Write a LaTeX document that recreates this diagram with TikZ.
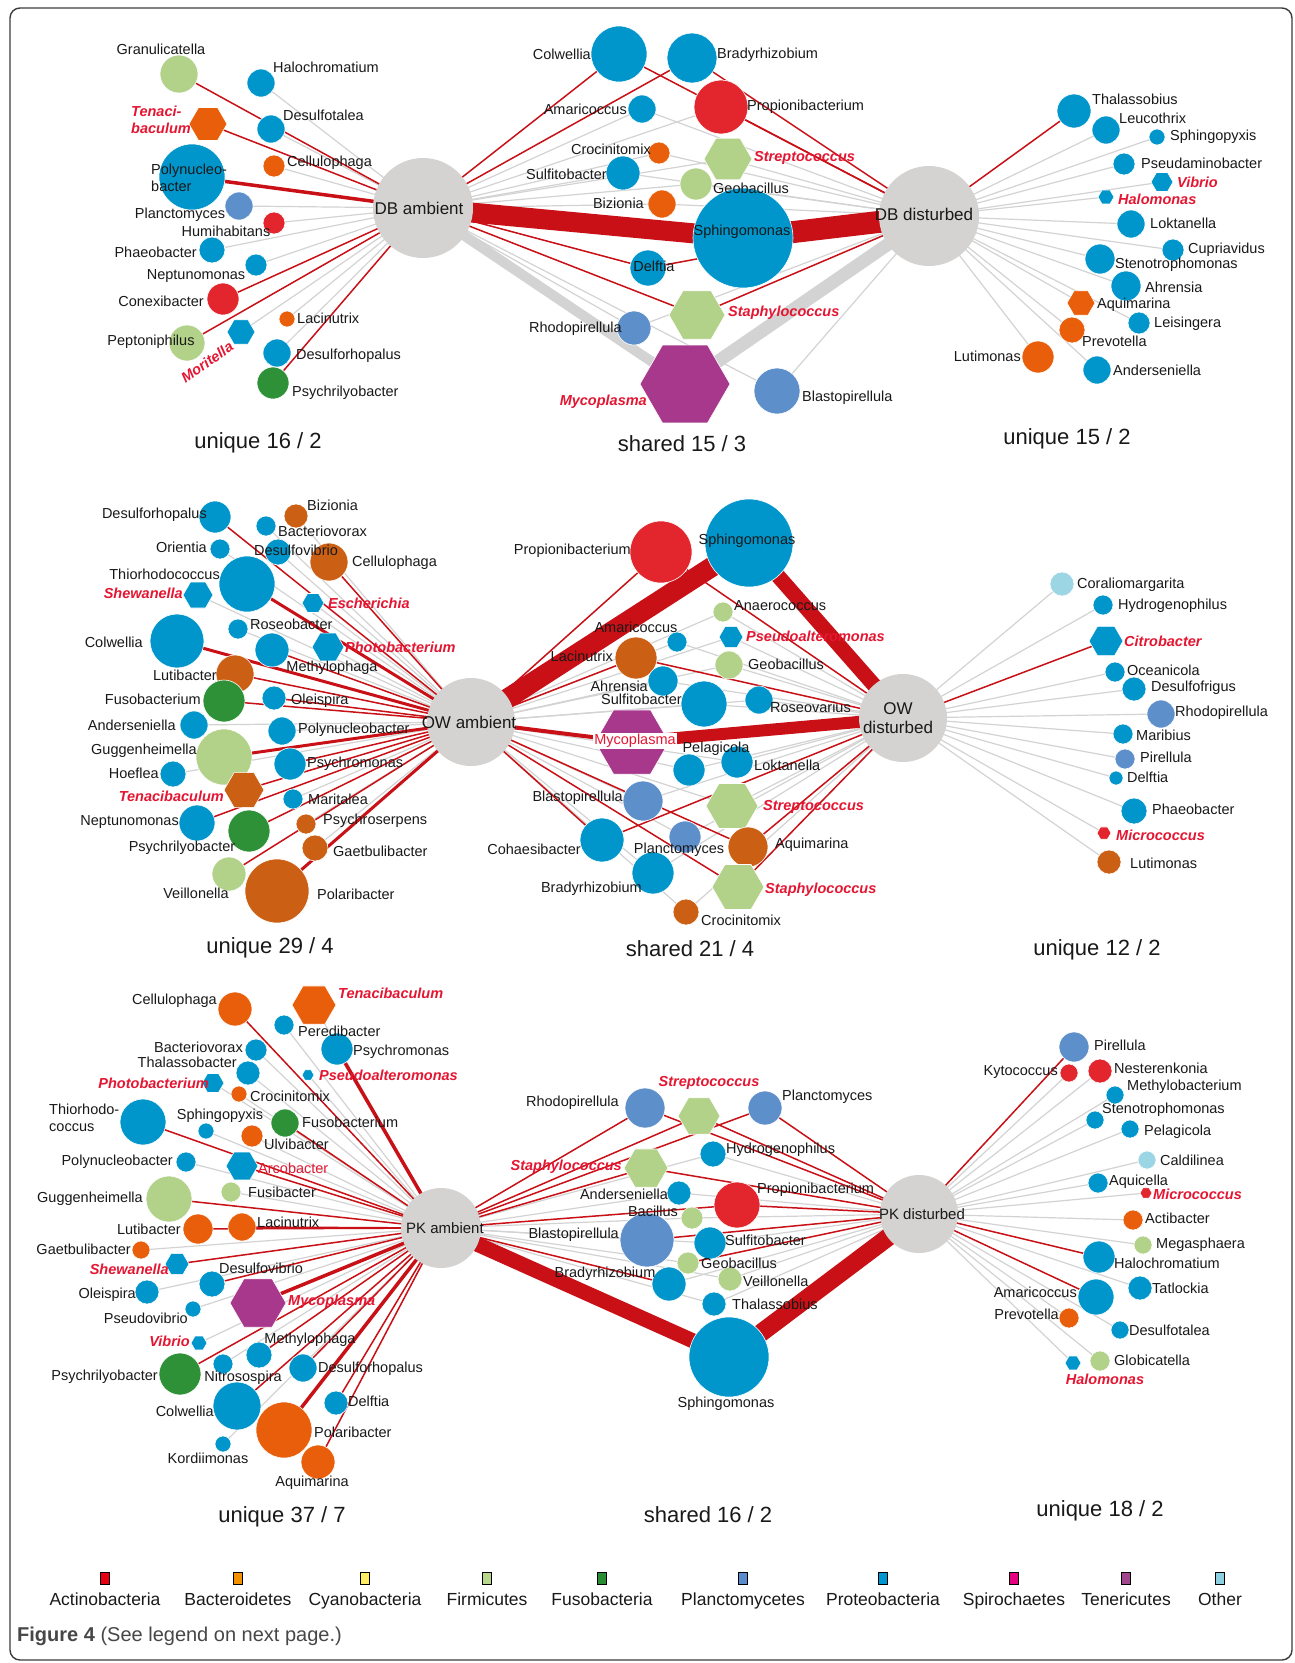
\documentclass[tikz,border=0pt]{standalone}
\usepackage{fontspec}
\setmainfont{Liberation Sans}
\usepackage{tikz}
\usetikzlibrary{positioning, shapes.geometric}
\definecolor{actin}{RGB}{227,38,45}
\definecolor{bactA}{RGB}{233,94,10}
\definecolor{bactB}{RGB}{203,96,21}
\definecolor{firm}{RGB}{178,209,137}
\definecolor{fuso}{RGB}{46,145,55}
\definecolor{planc}{RGB}{93,143,202}
\definecolor{prot}{RGB}{0,150,203}
\definecolor{tener}{RGB}{168,56,140}
\definecolor{other}{RGB}{156,213,228}
\definecolor{hubgrey}{RGB}{213,211,210}
\definecolor{edgered}{RGB}{200,16,22}
\definecolor{edgegrey}{RGB}{211,211,211}
\definecolor{pathred}{RGB}{228,22,50}
\definecolor{ink}{RGB}{25,25,25}
\definecolor{legact}{RGB}{230,0,18}
\definecolor{legbac}{RGB}{243,146,0}
\definecolor{legcya}{RGB}{255,237,100}
\definecolor{legfir}{RGB}{184,214,140}
\definecolor{legfus}{RGB}{40,140,50}
\definecolor{legpla}{RGB}{90,140,205}
\definecolor{legpro}{RGB}{0,150,210}
\definecolor{legspi}{RGB}{230,0,126}
\definecolor{legten}{RGB}{160,70,140}
\definecolor{legoth}{RGB}{140,208,225}
\newcommand{\labfont}{\fontsize{14.5}{17.5}\selectfont}
\newcommand{\pathfont}{\fontsize{14.5}{17.5}\selectfont\bfseries\itshape}
\newcommand{\hubfont}{\fontsize{17}{19}\selectfont}
\newcommand{\pkfont}{\fontsize{15}{17}\selectfont}
\newcommand{\titfont}{\fontsize{22}{24}\selectfont}
\newcommand{\legfont}{\fontsize{17.5}{19}\selectfont}
\pgfdeclarelayer{background}
\pgfsetlayers{background,main}
\tikzset{
  bug/.style={circle, draw=white, line width=0.6pt, inner sep=0pt},
  hexbug/.style={regular polygon, regular polygon sides=6, draw=white, line width=0.6pt, inner sep=0pt},
  hub/.style={circle, fill=hubgrey, inner sep=0pt},
  hublab/.style={font=\hubfont, text=ink, inner sep=0pt, align=center},
  lab/.style={font=\labfont, text=ink, inner sep=0pt},
  plab/.style={font=\pathfont, text=pathred, inner sep=0pt},
  rlab/.style={font=\labfont, text=pathred, inner sep=0pt},
  ttl/.style={font=\titfont, text=ink, inner sep=0pt},
  gE/.style={draw=edgegrey, line width=1.2pt},
  rE/.style={draw=edgered, line width=1.5pt},
  legbox/.style={draw=black, line width=0.8pt, minimum width=9, minimum height=12, inner sep=0pt},
  legtext/.style={font=\legfont, text=ink, inner sep=0pt}
}

\begin{document}
\begin{tikzpicture}[x=1pt, y=-1pt]
\useasboundingbox (0,0) rectangle (1295,1663);
\draw[rounded corners=10pt, line width=1.4pt, draw=ink!85] (10,8) rectangle (1292,1660);

\node[hub, minimum size=100] (dbA) at (423,208) {};
\node[hub, minimum size=100] (dbD) at (929,216) {};
\node[hub, minimum size=88] (owA) at (471,722) {};
\node[hub, minimum size=88] (owD) at (903,718) {};
\node[hub, minimum size=80] (pkA) at (441,1228) {};
\node[hub, minimum size=78] (pkD) at (919,1214) {};

\node[bug, fill=firm, minimum size=38] (a1Granu) at (179,74) {};
\node[bug, fill=prot, minimum size=28] (a1Haloc) at (261,83) {};
\node[hexbug, fill=bactA, minimum size=38] (a1Tenac) at (208,124) {};
\node[bug, fill=prot, minimum size=28] (a1Desft) at (271,129) {};
\node[bug, fill=bactA, minimum size=22] (a1Cellu) at (274,166) {};
\node[bug, fill=prot, minimum size=66] (a1Polyn) at (192,177) {};
\node[bug, fill=planc, minimum size=28] (a1Planc) at (239,206) {};
\node[bug, fill=actin, minimum size=22] (a1Humih) at (274,223) {};
\node[bug, fill=prot, minimum size=26] (a1Phaeo) at (212,250) {};
\node[bug, fill=prot, minimum size=22] (a1Neptu) at (256,265) {};
\node[bug, fill=actin, minimum size=32] (a1Conex) at (223,299) {};
\node[bug, fill=bactA, minimum size=16] (a1Lacin) at (287,319) {};
\node[hexbug, fill=prot, minimum size=28] (a1Morit) at (241,332) {};
\node[bug, fill=firm, minimum size=36] (a1Pepto) at (187,343) {};
\node[bug, fill=prot, minimum size=28] (a1Desrh) at (277,353) {};
\node[bug, fill=fuso, minimum size=32] (a1Psyly) at (273,383) {};

\node[bug, fill=prot, minimum size=56] (s1Colwe) at (619,54) {};
\node[bug, fill=prot, minimum size=50] (s1Brady) at (692,58) {};
\node[bug, fill=prot, minimum size=28] (s1Amari) at (642,109) {};
\node[bug, fill=actin, minimum size=54] (s1Propi) at (721,107) {};
\node[bug, fill=bactA, minimum size=22] (s1Croci) at (659,153) {};
\node[hexbug, fill=firm, minimum size=48] (s1Strep) at (728,159) {};
\node[bug, fill=prot, minimum size=34] (s1Sulfi) at (623,173) {};
\node[bug, fill=firm, minimum size=32] (s1Geoba) at (696,184) {};
\node[bug, fill=bactA, minimum size=28] (s1Bizio) at (662,204) {};
\node[bug, fill=prot, minimum size=100] (s1Sphin) at (743,238) {};
\node[bug, fill=prot, minimum size=36] (s1Delft) at (648,268) {};
\node[hexbug, fill=firm, minimum size=56] (s1Staph) at (697,315) {};
\node[bug, fill=planc, minimum size=34] (s1Rhodo) at (634,328) {};
\node[hexbug, fill=tener, minimum size=90] (s1Mycop) at (685,384) {};
\node[bug, fill=planc, minimum size=46] (s1Blast) at (777,391) {};

\node[bug, fill=prot, minimum size=34] (d1Thala) at (1074,111) {};
\node[bug, fill=prot, minimum size=28] (d1Leuco) at (1106,130) {};
\node[bug, fill=prot, minimum size=16] (d1Sphpy) at (1157,137) {};
\node[bug, fill=prot, minimum size=22] (d1Pseam) at (1124,164) {};
\node[hexbug, fill=prot, minimum size=22] (d1Vibri) at (1162,182) {};
\node[hexbug, fill=prot, minimum size=16] (d1Halom) at (1106,197) {};
\node[bug, fill=prot, minimum size=28] (d1Lokta) at (1131,224) {};
\node[bug, fill=prot, minimum size=22] (d1Cupri) at (1173,250) {};
\node[bug, fill=prot, minimum size=30] (d1Steno) at (1100,259) {};
\node[bug, fill=prot, minimum size=30] (d1Ahren) at (1126,286) {};
\node[hexbug, fill=bactA, minimum size=28] (d1Aquim) at (1081,303) {};
\node[bug, fill=prot, minimum size=22] (d1Leisi) at (1139,323) {};
\node[bug, fill=bactA, minimum size=26] (d1Prevo) at (1072,330) {};
\node[bug, fill=bactA, minimum size=32] (d1Lutim) at (1038,357) {};
\node[bug, fill=prot, minimum size=28] (d1Ander) at (1097,370) {};

\node[bug, fill=prot, minimum size=32] (a2Desrh) at (215,517) {};
\node[bug, fill=bactB, minimum size=24] (a2Bizio) at (296,516) {};
\node[bug, fill=prot, minimum size=20] (a2Bacte) at (266,526) {};
\node[bug, fill=prot, minimum size=20] (a2Orien) at (220,549) {};
\node[bug, fill=prot, minimum size=26] (a2Desvi) at (278,552) {};
\node[bug, fill=bactB, minimum size=38] (a2Cellu) at (329,562) {};
\node[bug, fill=prot, minimum size=56] (a2Thior) at (247,584) {};
\node[hexbug, fill=prot, minimum size=30] (a2Shewa) at (198,595) {};
\node[hexbug, fill=prot, minimum size=22] (a2Esche) at (313,603) {};
\node[bug, fill=prot, minimum size=20] (a2Roseo) at (238,629) {};
\node[bug, fill=prot, minimum size=54] (a2Colwe) at (177,641) {};
\node[bug, fill=prot, minimum size=34] (a2Methy) at (272,650) {};
\node[hexbug, fill=prot, minimum size=32] (a2Photo) at (328,647) {};
\node[bug, fill=bactB, minimum size=38] (a2Lutib) at (235,674) {};
\node[bug, fill=fuso, minimum size=42] (a2Fusob) at (224,701) {};
\node[bug, fill=prot, minimum size=24] (a2Oleis) at (274,698) {};
\node[bug, fill=prot, minimum size=28] (a2Ander) at (194,725) {};
\node[bug, fill=prot, minimum size=28] (a2Polyn) at (282,731) {};
\node[bug, fill=firm, minimum size=56] (a2Gugge) at (224,757) {};
\node[bug, fill=prot, minimum size=32] (a2Psycm) at (290,764) {};
\node[bug, fill=prot, minimum size=26] (a2Hoefl) at (173,774) {};
\node[hexbug, fill=bactB, minimum size=40] (a2Tenac) at (244,790) {};
\node[bug, fill=prot, minimum size=20] (a2Marit) at (293,799) {};
\node[bug, fill=prot, minimum size=36] (a2Neptu) at (197,823) {};
\node[bug, fill=fuso, minimum size=42] (a2Psyly) at (249,831) {};
\node[bug, fill=bactB, minimum size=20] (a2Psyse) at (306,824) {};
\node[bug, fill=bactB, minimum size=26] (a2Gaetb) at (315,848) {};
\node[bug, fill=firm, minimum size=34] (a2Veill) at (229,874) {};
\node[bug, fill=bactB, minimum size=64] (a2Polar) at (277,891) {};

\node[bug, fill=actin, minimum size=62] (s2Propi) at (661,552) {};
\node[bug, fill=prot, minimum size=88] (s2Sphin) at (749,543) {};
\node[bug, fill=firm, minimum size=20] (s2Anaer) at (723,612) {};
\node[bug, fill=prot, minimum size=20] (s2Amari) at (677,642) {};
\node[hexbug, fill=prot, minimum size=24] (s2Pseal) at (731,637) {};
\node[bug, fill=bactB, minimum size=42] (s2Lacin) at (636,658) {};
\node[bug, fill=firm, minimum size=28] (s2Geoba) at (729,665) {};
\node[bug, fill=prot, minimum size=30] (s2Ahren) at (663,681) {};
\node[bug, fill=prot, minimum size=46] (s2Sulfi) at (704,704) {};
\node[bug, fill=prot, minimum size=28] (s2Rosev) at (759,700) {};
\node[hexbug, fill=tener, minimum size=74] (s2Mycop) at (632,742) {};
\node[bug, fill=prot, minimum size=32] (s2Pelag) at (689,770) {};
\node[bug, fill=prot, minimum size=32] (s2Lokta) at (737,762) {};
\node[bug, fill=planc, minimum size=40] (s2Blast) at (643,801) {};
\node[hexbug, fill=firm, minimum size=52] (s2Strep) at (732,806) {};
\node[bug, fill=prot, minimum size=44] (s2Cohae) at (602,840) {};
\node[bug, fill=planc, minimum size=32] (s2Planc) at (685,837) {};
\node[bug, fill=bactB, minimum size=40] (s2Aquim) at (748,847) {};
\node[bug, fill=prot, minimum size=42] (s2Brady) at (653,873) {};
\node[hexbug, fill=firm, minimum size=52] (s2Staph) at (738,887) {};
\node[bug, fill=bactB, minimum size=26] (s2Croci) at (686,912) {};

\node[bug, fill=other, minimum size=24] (d2Coral) at (1062,584) {};
\node[bug, fill=prot, minimum size=20] (d2Hydro) at (1103,605) {};
\node[hexbug, fill=prot, minimum size=34] (d2Citro) at (1106,641) {};
\node[bug, fill=prot, minimum size=20] (d2Ocean) at (1115,672) {};
\node[bug, fill=prot, minimum size=24] (d2Desfr) at (1134,689) {};
\node[bug, fill=planc, minimum size=28] (d2Rhodo) at (1161,714) {};
\node[bug, fill=prot, minimum size=20] (d2Marib) at (1123,734) {};
\node[bug, fill=planc, minimum size=20] (d2Pirel) at (1125,759) {};
\node[bug, fill=prot, minimum size=14] (d2Delft) at (1116,778) {};
\node[bug, fill=prot, minimum size=26] (d2Phaeo) at (1134,811) {};
\node[hexbug, fill=actin, minimum size=14] (d2Micro) at (1104,833) {};
\node[bug, fill=bactB, minimum size=24] (d2Lutim) at (1109,862) {};

\node[bug, fill=bactA, minimum size=34] (a3Cellu) at (235,1009) {};
\node[hexbug, fill=bactA, minimum size=44] (a3Tenac) at (314,1005) {};
\node[bug, fill=prot, minimum size=20] (a3Pered) at (284,1025) {};
\node[bug, fill=prot, minimum size=22] (a3Bacte) at (256,1050) {};
\node[bug, fill=prot, minimum size=32] (a3Psycm) at (337,1049) {};
\node[bug, fill=prot, minimum size=24] (a3Thala) at (248,1073) {};
\node[hexbug, fill=prot, minimum size=12] (a3Pseal) at (308,1075) {};
\node[hexbug, fill=prot, minimum size=22] (a3Photo) at (213,1083) {};
\node[bug, fill=bactA, minimum size=16] (a3Croci) at (239,1094) {};
\node[bug, fill=prot, minimum size=46] (a3Thior) at (143,1122) {};
\node[bug, fill=prot, minimum size=16] (a3Sphpy) at (206,1131) {};
\node[bug, fill=fuso, minimum size=28] (a3Fusob) at (285,1123) {};
\node[bug, fill=bactA, minimum size=22] (a3Ulvib) at (252,1136) {};
\node[bug, fill=prot, minimum size=20] (a3Polyn) at (186,1162) {};
\node[hexbug, fill=prot, minimum size=32] (a3Arcob) at (242,1166) {};
\node[bug, fill=firm, minimum size=46] (a3Gugge) at (169,1199) {};
\node[bug, fill=firm, minimum size=20] (a3Fusib) at (231,1192) {};
\node[bug, fill=bactA, minimum size=30] (a3Lutib) at (198,1229) {};
\node[bug, fill=bactA, minimum size=28] (a3Lacin) at (242,1227) {};
\node[bug, fill=bactA, minimum size=18] (a3Gaetb) at (141,1250) {};
\node[hexbug, fill=prot, minimum size=24] (a3Shewa) at (177,1264) {};
\node[bug, fill=prot, minimum size=26] (a3Desvi) at (212,1284) {};
\node[bug, fill=prot, minimum size=24] (a3Oleis) at (147,1292) {};
\node[hexbug, fill=tener, minimum size=56] (a3Mycop) at (258,1303) {};
\node[bug, fill=prot, minimum size=16] (a3Psvib) at (193,1309) {};
\node[hexbug, fill=prot, minimum size=16] (a3Vibri) at (199,1343) {};
\node[bug, fill=prot, minimum size=26] (a3Methy) at (259,1355) {};
\node[bug, fill=fuso, minimum size=42] (a3Psyly) at (180,1374) {};
\node[bug, fill=prot, minimum size=20] (a3Nitro) at (223,1364) {};
\node[bug, fill=prot, minimum size=28] (a3Desrh) at (303,1368) {};
\node[bug, fill=prot, minimum size=48] (a3Colwe) at (237,1406) {};
\node[bug, fill=prot, minimum size=24] (a3Delft) at (336,1403) {};
\node[bug, fill=bactA, minimum size=56] (a3Polar) at (284,1430) {};
\node[bug, fill=prot, minimum size=16] (a3Kordi) at (223,1444) {};
\node[bug, fill=bactA, minimum size=34] (a3Aquim) at (318,1462) {};

\node[hexbug, fill=firm, minimum size=42] (s3Strep) at (699,1116) {};
\node[bug, fill=planc, minimum size=40] (s3Rhodo) at (645,1108) {};
\node[bug, fill=planc, minimum size=34] (s3Planc) at (765,1108) {};
\node[bug, fill=prot, minimum size=26] (s3Hydro) at (713,1154) {};
\node[hexbug, fill=firm, minimum size=44] (s3Staph) at (646,1168) {};
\node[bug, fill=prot, minimum size=24] (s3Ander) at (679,1193) {};
\node[bug, fill=actin, minimum size=46] (s3Propi) at (737,1205) {};
\node[bug, fill=firm, minimum size=22] (s3Bacil) at (692,1218) {};
\node[bug, fill=planc, minimum size=54] (s3Blast) at (647,1240) {};
\node[bug, fill=prot, minimum size=32] (s3Sulfi) at (710,1243) {};
\node[bug, fill=firm, minimum size=22] (s3Geoba) at (688,1263) {};
\node[bug, fill=prot, minimum size=34] (s3Brady) at (669,1284) {};
\node[bug, fill=firm, minimum size=24] (s3Veill) at (730,1279) {};
\node[bug, fill=prot, minimum size=24] (s3Thala) at (714,1304) {};
\node[bug, fill=prot, minimum size=80] (s3Sphin) at (729,1357) {};

\node[bug, fill=planc, minimum size=30] (d3Pirel) at (1074,1047) {};
\node[bug, fill=actin, minimum size=18] (d3Kytoc) at (1069,1073) {};
\node[bug, fill=actin, minimum size=24] (d3Neste) at (1100,1071) {};
\node[bug, fill=prot, minimum size=18] (d3Methb) at (1115,1095) {};
\node[bug, fill=prot, minimum size=18] (d3Steno) at (1095,1120) {};
\node[bug, fill=prot, minimum size=18] (d3Pelag) at (1130,1129) {};
\node[bug, fill=other, minimum size=18] (d3Caldi) at (1147,1160) {};
\node[bug, fill=prot, minimum size=20] (d3Aquic) at (1098,1183) {};
\node[hexbug, fill=actin, minimum size=12] (d3Micro) at (1146,1193) {};
\node[bug, fill=bactA, minimum size=20] (d3Actib) at (1133,1220) {};
\node[bug, fill=firm, minimum size=18] (d3Megas) at (1143,1245) {};
\node[bug, fill=prot, minimum size=32] (d3Haloc) at (1099,1257) {};
\node[bug, fill=prot, minimum size=24] (d3Tatlo) at (1140,1288) {};
\node[bug, fill=prot, minimum size=36] (d3Amari) at (1096,1297) {};
\node[bug, fill=bactA, minimum size=20] (d3Prevo) at (1069,1318) {};
\node[bug, fill=prot, minimum size=18] (d3Desul) at (1120,1330) {};
\node[bug, fill=firm, minimum size=20] (d3Globi) at (1100,1361) {};
\node[hexbug, fill=prot, minimum size=16] (d3Halom) at (1073,1363) {};

\node[hublab] (dbAL) at (419,208) {DB ambient};
\node[hublab] (dbDL) at (924,214) {DB disturbed};
\node[hublab] (owAL) at (469,722) {OW ambient};
\node[hublab] (owDL) at (898,718) {OW\\disturbed};
\node[hublab, font=\pkfont] (pkAL) at (445,1228) {PK ambient};
\node[hublab, font=\pkfont] (pkDL) at (922,1214) {PK disturbed};

\node[lab] (a1GranuL) at (161,49) {Granulicatella};
\node[lab, anchor=west] (a1HalocL) at (273,67) {Halochromatium};
\node[plab, anchor=west, align=left] (a1TenacL) at (131,120) {Tenaci-\\baculum};
\node[lab, anchor=west] (a1DesftL) at (283,115) {Desulfotalea};
\node[lab, anchor=west] (a1CelluL) at (287,163) {Cellulophaga};
\node[lab, anchor=west, align=left] (a1PolynL) at (151,178) {Polynucleo-\\bacter};
\node[lab] (a1PlancL) at (180,215) {Planctomyces};
\node[lab] (a1HumihL) at (226,231) {Humihabitans};
\node[lab, anchor=east] (a1PhaeoL) at (197,252) {Phaeobacter};
\node[lab] (a1NeptuL) at (196,276) {Neptunomonas};
\node[lab, anchor=east] (a1ConexL) at (204,301) {Conexibacter};
\node[lab, anchor=west] (a1LacinL) at (297,318) {Lacinutrix};
\node[plab, rotate=35] (a1MoritL) at (207,362) {Moritella};
\node[lab] (a1PeptoL) at (151,342) {Peptoniphilus};
\node[lab, anchor=west] (a1DesrhL) at (296,356) {Desulforhopalus};
\node[lab, anchor=west] (a1PsylyL) at (292,393) {Psychrilyobacter};

\node[lab, anchor=east] (s1ColweL) at (591,54) {Colwellia};
\node[lab, anchor=west] (s1BradyL) at (717,55) {Bradyrhizobium};
\node[lab, anchor=east] (s1AmariL) at (627,109) {Amaricoccus};
\node[lab, anchor=west] (s1PropiL) at (747,107) {Propionibacterium};
\node[lab, anchor=east] (s1CrociL) at (651,149) {Crocinitomix};
\node[plab, anchor=west] (s1StrepL) at (754,158) {Streptococcus};
\node[lab, anchor=east] (s1SulfiL) at (607,174) {Sulfitobacter};
\node[lab, anchor=west] (s1GeobaL) at (713,188) {Geobacillus};
\node[lab, anchor=east] (s1BizioL) at (644,203) {Bizionia};
\node[lab] (s1SphinL) at (742,232) {Sphingomonas};
\node[lab] (s1DelftL) at (654,266) {Delftia};
\node[plab, anchor=west] (s1StaphL) at (728,313) {Staphylococcus};
\node[lab, anchor=east] (s1RhodoL) at (622,329) {Rhodopirellula};
\node[plab, anchor=east] (s1MycopL) at (647,402) {Mycoplasma};
\node[lab, anchor=west] (s1BlastL) at (802,398) {Blastopirellula};

\node[lab, anchor=west] (d1ThalaL) at (1092,99) {Thalassobius};
\node[lab, anchor=west] (d1LeucoL) at (1119,118) {Leucothrix};
\node[lab, anchor=west] (d1SphpyL) at (1170,137) {Sphingopyxis};
\node[lab, anchor=west] (d1PseamL) at (1141,163) {Pseudaminobacter};
\node[plab, anchor=west] (d1VibriL) at (1177,182) {Vibrio};
\node[plab, anchor=west] (d1HalomL) at (1118,199) {Halomonas};
\node[lab, anchor=west] (d1LoktaL) at (1150,223) {Loktanella};
\node[lab, anchor=west] (d1CupriL) at (1188,250) {Cupriavidus};
\node[lab, anchor=west] (d1StenoL) at (1115,265) {Stenotrophomonas};
\node[lab, anchor=west] (d1AhrenL) at (1145,287) {Ahrensia};
\node[lab, anchor=west] (d1AquimL) at (1097,305) {Aquimarina};
\node[lab, anchor=west] (d1LeisiL) at (1154,324) {Leisingera};
\node[lab, anchor=west] (d1PrevoL) at (1082,341) {Prevotella};
\node[lab, anchor=east] (d1LutimL) at (1021,356) {Lutimonas};
\node[lab, anchor=west] (d1AnderL) at (1113,370) {Anderseniella};

\node[lab, anchor=east] (a2DesrhL) at (207,515) {Desulforhopalus};
\node[lab, anchor=west] (a2BizioL) at (307,505) {Bizionia};
\node[lab, anchor=west] (a2BacteL) at (278,531) {Bacteriovorax};
\node[lab, anchor=east] (a2OrienL) at (207,547) {Orientia};
\node[lab] (a2DesviL) at (296,550) {Desulfovibrio};
\node[lab, anchor=west] (a2CelluL) at (352,563) {Cellulophaga};
\node[lab, anchor=east] (a2ThiorL) at (220,574) {Thiorhodococcus};
\node[plab, anchor=east] (a2ShewaL) at (183,593) {Shewanella};
\node[plab, anchor=west] (a2EscheL) at (328,603) {Escherichia};
\node[lab, anchor=west] (a2RoseoL) at (250,624) {Roseobacter};
\node[lab, anchor=east] (a2ColweL) at (143,642) {Colwellia};
\node[lab] (a2MethyL) at (332,668) {Methylophaga};
\node[plab, anchor=west] (a2PhotoL) at (345,647) {Photobacterium};
\node[lab, anchor=east] (a2LutibL) at (217,675) {Lutibacter};
\node[lab, anchor=east] (a2FusobL) at (201,699) {Fusobacterium};
\node[lab, anchor=west] (a2OleisL) at (291,701) {Oleispira};
\node[lab, anchor=east] (a2AnderL) at (176,725) {Anderseniella};
\node[lab, anchor=west] (a2PolynL) at (298,730) {Polynucleobacter};
\node[lab, anchor=east] (a2GuggeL) at (197,751) {Guggenheimella};
\node[lab, anchor=west] (a2PsycmL) at (307,764) {Psychromonas};
\node[lab, anchor=east] (a2HoeflL) at (159,773) {Hoeflea};
\node[plab, anchor=east] (a2TenacL) at (224,796) {Tenacibaculum};
\node[lab, anchor=west] (a2MaritL) at (308,799) {Maritalea};
\node[lab, anchor=east] (a2NeptuL) at (179,822) {Neptunomonas};
\node[lab] (a2PsylyL) at (182,848) {Psychrilyobacter};
\node[lab, anchor=west] (a2PsyseL) at (323,821) {Psychroserpens};
\node[lab, anchor=west] (a2GaetbL) at (333,851) {Gaetbulibacter};
\node[lab] (a2VeillL) at (196,893) {Veillonella};
\node[lab, anchor=west] (a2PolarL) at (317,894) {Polaribacter};

\node[lab, anchor=east] (s2PropiL) at (631,551) {Propionibacterium};
\node[lab] (s2SphinL) at (747,541) {Sphingomonas};
\node[lab, anchor=west] (s2AnaerL) at (734,606) {Anaerococcus};
\node[lab] (s2AmariL) at (636,627) {Amaricoccus};
\node[plab, anchor=west] (s2PsealL) at (746,636) {Pseudoalteromonas};
\node[lab, anchor=east] (s2LacinL) at (613,656) {Lacinutrix};
\node[lab, anchor=west] (s2GeobaL) at (748,664) {Geobacillus};
\node[lab, anchor=east] (s2AhrenL) at (648,686) {Ahrensia};
\node[lab, anchor=east] (s2SulfiL) at (682,699) {Sulfitobacter};
\node[lab, anchor=west] (s2RosevL) at (770,707) {Roseovarius};
\node[rlab, fill=white, inner sep=1pt] (s2MycopL) at (635,741) {Mycoplasma};
\node[lab] (s2PelagL) at (716,749) {Pelagicola};
\node[lab, anchor=west] (s2LoktaL) at (754,765) {Loktanella};
\node[lab, anchor=east] (s2BlastL) at (623,798) {Blastopirellula};
\node[plab, anchor=west] (s2StrepL) at (763,807) {Streptococcus};
\node[lab, anchor=east] (s2CohaeL) at (581,849) {Cohaesibacter};
\node[lab] (s2PlancL) at (679,850) {Planctomyces};
\node[lab, anchor=west] (s2AquimL) at (775,845) {Aquimarina};
\node[lab, anchor=east] (s2BradyL) at (642,889) {Bradyrhizobium};
\node[plab, anchor=west] (s2StaphL) at (765,890) {Staphylococcus};
\node[lab, anchor=west] (s2CrociL) at (701,920) {Crocinitomix};

\node[lab, anchor=west] (d2CoralL) at (1077,585) {Coraliomargarita};
\node[lab, anchor=west] (d2HydroL) at (1118,606) {Hydrogenophilus};
\node[plab, anchor=west] (d2CitroL) at (1124,641) {Citrobacter};
\node[lab, anchor=west] (d2OceanL) at (1127,670) {Oceanicola};
\node[lab, anchor=west] (d2DesfrL) at (1151,688) {Desulfofrigus};
\node[lab, anchor=west] (d2RhodoL) at (1175,713) {Rhodopirellula};
\node[lab, anchor=west] (d2MaribL) at (1136,735) {Maribius};
\node[lab, anchor=west] (d2PirelL) at (1140,757) {Pirellula};
\node[lab, anchor=west] (d2DelftL) at (1127,777) {Delftia};
\node[lab, anchor=west] (d2PhaeoL) at (1152,809) {Phaeobacter};
\node[plab, anchor=west] (d2MicroL) at (1116,835) {Micrococcus};
\node[lab, anchor=west] (d2LutimL) at (1130,863) {Lutimonas};

\node[lab, anchor=east] (a3CelluL) at (217,1001) {Cellulophaga};
\node[plab, anchor=west] (a3TenacL) at (338,993) {Tenacibaculum};
\node[lab, anchor=west] (a3PeredL) at (298,1031) {Peredibacter};
\node[lab, anchor=east] (a3BacteL) at (243,1047) {Bacteriovorax};
\node[lab, anchor=west] (a3PsycmL) at (353,1052) {Psychromonas};
\node[lab, anchor=east] (a3ThalaL) at (237,1062) {Thalassobacter};
\node[plab, anchor=west] (a3PsealL) at (319,1075) {Pseudoalteromonas};
\node[plab, anchor=east] (a3PhotoL) at (209,1083) {Photobacterium};
\node[lab, anchor=west] (a3CrociL) at (250,1096) {Crocinitomix};
\node[lab, anchor=west, align=left] (a3ThiorL) at (49,1118) {Thiorhodo-\\coccus};
\node[lab] (a3SphpyL) at (220,1116) {Sphingopyxis};
\node[lab, anchor=west] (a3FusobL) at (302,1122) {Fusobacterium};
\node[lab, anchor=west] (a3UlvibL) at (264,1144) {Ulvibacter};
\node[lab, anchor=east] (a3PolynL) at (173,1162) {Polynucleobacter};
\node[rlab, anchor=west] (a3ArcobL) at (258,1168) {Arcobacter};
\node[lab, anchor=east] (a3GuggeL) at (143,1199) {Guggenheimella};
\node[lab, anchor=west] (a3FusibL) at (248,1192) {Fusibacter};
\node[lab, anchor=east] (a3LutibL) at (181,1229) {Lutibacter};
\node[lab, anchor=west] (a3LacinL) at (257,1222) {Lacinutrix};
\node[lab, anchor=east] (a3GaetbL) at (131,1249) {Gaetbulibacter};
\node[plab, anchor=east] (a3ShewaL) at (169,1269) {Shewanella};
\node[lab] (a3DesviL) at (261,1268) {Desulfovibrio};
\node[lab, anchor=east] (a3OleisL) at (136,1295) {Oleispira};
\node[plab, anchor=west] (a3MycopL) at (288,1302) {Mycoplasma};
\node[lab, anchor=east] (a3PsvibL) at (188,1318) {Pseudovibrio};
\node[plab, anchor=east] (a3VibriL) at (190,1341) {Vibrio};
\node[lab] (a3MethyL) at (310,1340) {Methylophaga};
\node[lab, anchor=east] (a3PsylyL) at (158,1377) {Psychrilyobacter};
\node[lab] (a3NitroL) at (243,1378) {Nitrosospira};
\node[lab, anchor=west] (a3DesrhL) at (318,1369) {Desulforhopalus};
\node[lab, anchor=east] (a3ColweL) at (214,1411) {Colwellia};
\node[lab, anchor=west] (a3DelftL) at (348,1401) {Delftia};
\node[lab, anchor=west] (a3PolarL) at (314,1432) {Polaribacter};
\node[lab] (a3KordiL) at (208,1458) {Kordiimonas};
\node[lab] (a3AquimL) at (312,1483) {Aquimarina};

\node[plab] (s3StrepL) at (709,1083) {Streptococcus};
\node[lab, anchor=east] (s3RhodoL) at (619,1103) {Rhodopirellula};
\node[lab, anchor=west] (s3PlancL) at (782,1097) {Planctomyces};
\node[lab, anchor=west] (s3HydroL) at (726,1150) {Hydrogenophilus};
\node[plab, anchor=east] (s3StaphL) at (622,1167) {Staphylococcus};
\node[lab] (s3AnderL) at (624,1194) {Anderseniella};
\node[lab, anchor=west] (s3PropiL) at (757,1190) {Propionibacterium};
\node[lab] (s3BacilL) at (653,1211) {Bacillus};
\node[lab, anchor=east] (s3BlastL) at (619,1235) {Blastopirellula};
\node[lab, anchor=west] (s3SulfiL) at (725,1240) {Sulfitobacter};
\node[lab, anchor=west] (s3GeobaL) at (701,1263) {Geobacillus};
\node[lab] (s3BradyL) at (605,1274) {Bradyrhizobium};
\node[lab, anchor=west] (s3VeillL) at (743,1281) {Veillonella};
\node[lab, anchor=west] (s3ThalaL) at (732,1304) {Thalassobius};
\node[lab] (s3SphinL) at (726,1404) {Sphingomonas};

\node[lab, anchor=west] (d3PirelL) at (1094,1045) {Pirellula};
\node[lab, anchor=east] (d3KytocL) at (1058,1072) {Kytococcus};
\node[lab, anchor=west] (d3NesteL) at (1114,1068) {Nesterenkonia};
\node[lab, anchor=west] (d3MethbL) at (1127,1087) {Methylobacterium};
\node[lab, anchor=west] (d3StenoL) at (1102,1110) {Stenotrophomonas};
\node[lab, anchor=west] (d3PelagL) at (1144,1132) {Pelagicola};
\node[lab, anchor=west] (d3CaldiL) at (1160,1160) {Caldilinea};
\node[lab, anchor=west] (d3AquicL) at (1109,1182) {Aquicella};
\node[plab, anchor=west] (d3MicroL) at (1153,1194) {Micrococcus};
\node[lab, anchor=west] (d3ActibL) at (1145,1218) {Actibacter};
\node[lab, anchor=west] (d3MegasL) at (1156,1245) {Megasphaera};
\node[lab, anchor=west] (d3HalocL) at (1114,1263) {Halochromatium};
\node[lab, anchor=west] (d3TatloL) at (1152,1288) {Tatlockia};
\node[lab, anchor=east] (d3AmariL) at (1077,1292) {Amaricoccus};
\node[lab, anchor=east] (d3PrevoL) at (1059,1314) {Prevotella};
\node[lab, anchor=west] (d3DesulL) at (1129,1330) {Desulfotalea};
\node[lab, anchor=west] (d3GlobiL) at (1114,1360) {Globicatella};
\node[plab] (d3HalomL) at (1105,1379) {Halomonas};

\node[ttl] (t1a) at (258,443) {unique 16 / 2};
\node[ttl] (t1s) at (682,444) {shared 15 / 3};
\node[ttl] (t1d) at (1067,439) {unique 15 / 2};
\node[ttl] (t2a) at (270,948) {unique 29 / 4};
\node[ttl] (t2s) at (690,949) {shared 21 / 4};
\node[ttl] (t2d) at (1097,950) {unique 12 / 2};
\node[ttl] (t3a) at (282,1517) {unique 37 / 7};
\node[ttl] (t3s) at (708,1515) {shared 16 / 2};
\node[ttl] (t3d) at (1100,1511) {unique 18 / 2};

\foreach \c/\x/\t [count=\i] in {legact/105/Actinobacteria, legbac/238/Bacteroidetes, legcya/365/Cyanobacteria, legfir/487/Firmicutes, legfus/602/Fusobacteria, legpla/743/Planctomycetes, legpro/883/Proteobacteria, legspi/1014/Spirochaetes, legten/1126/Tenericutes, legoth/1220/Other}
{
  \node[legbox, fill=\c] (leg\i) at (\x,1578) {};
  \node[legtext, below=8pt of leg\i] (legt\i) {\t};
}
\node[anchor=west, inner sep=0pt, font=\fontsize{20}{22}\selectfont, text=ink!80] (cap) at (17,1636) {\textbf{Figure 4} (See legend on next page.)};

\begin{pgfonlayer}{background}
\fill[white] (0,0) rectangle (1295,1663);
\foreach \n in {Haloc,Desft,Cellu,Planc,Humih,Phaeo,Neptu,Lacin,Morit,Desrh}
  \draw[gE] (dbA.center) -- (a1\n.center);
\foreach \n in {Granu,Tenac,Conex,Pepto,Psyly}
  \draw[rE] (dbA.center) -- (a1\n.center);
\draw[rE, line width=3.5pt] (dbA.center) -- (a1Polyn.center);

\foreach \n in {Amari,Propi,Croci,Strep,Sulfi,Geoba,Bizio,Rhodo,Blast}
  \draw[gE] (dbA.center) -- (s1\n.center);
\foreach \n in {Amari,Croci,Strep,Sulfi,Geoba,Bizio,Rhodo,Blast}
  \draw[gE] (dbD.center) -- (s1\n.center);
\draw[gE, line width=10pt] (dbA.center) -- (s1Mycop.center);
\draw[gE, line width=13pt] (dbD.center) -- (s1Mycop.center);
\foreach \n in {Colwe,Brady,Delft,Staph}
  \draw[rE] (dbA.center) -- (s1\n.center);
\foreach \n in {Colwe,Brady,Propi,Delft,Staph}
  \draw[rE] (dbD.center) -- (s1\n.center);
\draw[rE, line width=20pt] (dbA.center) -- (s1Sphin.center);
\draw[rE, line width=22pt] (dbD.center) -- (s1Sphin.center);

\foreach \n in {Leuco,Sphpy,Pseam,Vibri,Halom,Lokta,Cupri,Steno,Ahren,Aquim,Leisi,Prevo,Lutim,Ander}
  \draw[gE] (dbD.center) -- (d1\n.center);
\draw[rE] (dbD.center) -- (d1Thala.center);

\foreach \n in {Bizio,Bacte,Orien,Desvi,Shewa,Esche,Roseo,Photo,Ander,Polyn,Hoefl,Marit,Psyse,Gaetb}
  \draw[gE] (owA.center) -- (a2\n.center);
\foreach \n in {Desrh,Cellu,Methy,Lutib,Fusob,Oleis,Psycm,Tenac,Neptu,Psyly,Veill}
  \draw[rE] (owA.center) -- (a2\n.center);
\foreach \n in {Thior,Colwe,Gugge,Polar}
  \draw[rE, line width=3pt] (owA.center) -- (a2\n.center);

\foreach \n in {Anaer,Amari,Pseal,Geoba,Ahren,Sulfi,Rosev,Pelag,Lokta,Blast,Strep,Planc,Brady,Croci}
{
  \draw[gE] (owA.center) -- (s2\n.center);
  \draw[gE] (owD.center) -- (s2\n.center);
}
\foreach \n in {Propi,Lacin,Cohae,Aquim,Staph}
{
  \draw[rE] (owA.center) -- (s2\n.center);
  \draw[rE] (owD.center) -- (s2\n.center);
}
\draw[rE, line width=4pt] (owA.center) -- (s2Mycop.center);
\draw[rE, line width=12pt] (owD.center) -- (s2Mycop.center);
\draw[rE, line width=20pt] (owA.center) -- (s2Sphin.center);
\draw[rE, line width=15pt] (owD.center) -- (s2Sphin.center);

\foreach \n in {Coral,Hydro,Ocean,Desfr,Rhodo,Marib,Pirel,Delft,Phaeo,Micro,Lutim}
  \draw[gE] (owD.center) -- (d2\n.center);
\draw[rE] (owD.center) -- (d2Citro.center);

\foreach \n in {Tenac,Pered,Bacte,Thala,Pseal,Photo,Croci,Sphpy,Ulvib,Polyn,Fusib,Gaetb,Oleis,Psvib,Vibri,Nitro,Kordi}
  \draw[gE] (pkA.center) -- (a3\n.center);
\foreach \n in {Cellu,Fusob,Thior,Arcob,Gugge,Lutib,Lacin,Shewa,Desvi,Psyly,Colwe,Aquim,Desrh,Methy,Delft}
  \draw[rE] (pkA.center) -- (a3\n.center);
\foreach \n in {Psycm,Mycop,Polar}
  \draw[rE, line width=3.5pt] (pkA.center) -- (a3\n.center);

\foreach \n in {Hydro,Ander,Bacil,Blast,Sulfi,Geoba,Veill,Thala}
  \draw[gE] (pkA.center) -- (s3\n.center);
\foreach \n in {Hydro,Ander,Bacil,Sulfi,Brady,Veill,Thala}
  \draw[gE] (pkD.center) -- (s3\n.center);
\foreach \n in {Strep,Rhodo,Planc,Staph,Propi,Brady}
  \draw[rE] (pkA.center) -- (s3\n.center);
\foreach \n in {Strep,Rhodo,Planc,Staph,Propi,Blast,Geoba}
  \draw[rE] (pkD.center) -- (s3\n.center);
\draw[rE, line width=15pt] (pkA.center) -- (s3Sphin.center);
\draw[rE, line width=18pt] (pkD.center) -- (s3Sphin.center);

\foreach \n in {Kytoc,Neste,Methb,Steno,Pelag,Caldi,Aquic,Micro,Actib,Megas,Tatlo,Prevo,Desul,Globi,Halom}
  \draw[gE] (pkD.center) -- (d3\n.center);
\foreach \n in {Pirel,Haloc,Amari}
  \draw[rE] (pkD.center) -- (d3\n.center);
\end{pgfonlayer}
\end{tikzpicture}
\end{document}
